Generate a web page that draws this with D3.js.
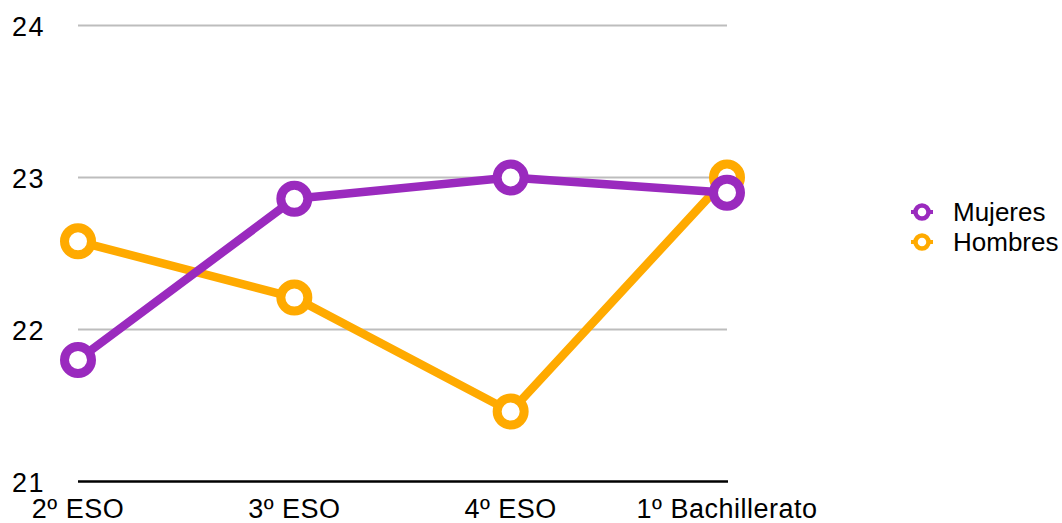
<!DOCTYPE html>
<html>
<head>
<meta charset="utf-8">
<script src="https://cdn.jsdelivr.net/npm/d3@7"></script>
<style>
  html, body { margin: 0; padding: 0; background: #fff; }
  svg { display: block; font-family: "Liberation Sans", Arial, Helvetica, sans-serif; }
</style>
</head>
<body>
<svg id="chart" width="1062" height="523"></svg>
<script>
// Course levels along the x axis
const categories = ["2º ESO", "3º ESO", "4º ESO", "1º Bachillerato"];
// Average values per course
const mujeres = [21.80, 22.86, 23.00, 22.90];
const hombres = [22.58, 22.21, 21.46, 23.00];
// Y axis ticks
const yTicks = [21, 22, 23, 24];

const seriesNames = ["Mujeres", "Hombres"];
const seriesColors = ["#9A2ABE", "#FFAA00"];

const svg = d3.select("#chart");

const x = d3.scalePoint().domain(categories).range([78, 727]);
const y = d3.scaleLinear().domain([21, 24]).range([481.5, 25.5]);

// Horizontal gridlines
svg.append("g")
  .selectAll("line")
  .data(yTicks.filter(t => t !== 21))
  .join("line")
  .attr("x1", 78).attr("x2", 727)
  .attr("y1", d => y(d)).attr("y2", d => y(d))
  .attr("stroke", "#bdbdbd").attr("stroke-width", 2);

// Baseline
svg.append("line")
  .attr("x1", 78).attr("x2", 728)
  .attr("y1", y(21)).attr("y2", y(21))
  .attr("stroke", "#000").attr("stroke-width", 2.5);

// Y tick labels
svg.append("g")
  .selectAll("text")
  .data(yTicks)
  .join("text")
  .attr("x", 12)
  .attr("y", d => y(d) + 10)
  .attr("font-size", 27)
  .attr("letter-spacing", 1.5)
  .attr("fill", "#000")
  .text(d => d);

// X tick labels
svg.append("g")
  .selectAll("text")
  .data(categories)
  .join("text")
  .attr("x", d => x(d))
  .attr("y", 518)
  .attr("text-anchor", "middle")
  .attr("font-size", 27)
  .attr("letter-spacing", 0.5)
  .attr("fill", "#000")
  .text(d => d);

const line = d3.line()
  .x((d, i) => x(categories[i]))
  .y(d => y(d));

// Hombres drawn first so Mujeres sits on top
const series = [
  { name: "Hombres", values: hombres, color: seriesColors[1] },
  { name: "Mujeres", values: mujeres, color: seriesColors[0] }
];

series.forEach(s => {
  const g = svg.append("g");
  g.append("path")
    .datum(s.values)
    .attr("d", line)
    .attr("fill", "none")
    .attr("stroke", s.color)
    .attr("stroke-width", 8.5)
    .attr("stroke-linejoin", "round");
  g.selectAll("circle")
    .data(s.values)
    .join("circle")
    .attr("cx", (d, i) => x(categories[i]))
    .attr("cy", d => y(d))
    .attr("r", 13.5)
    .attr("fill", "#fff")
    .attr("stroke", s.color)
    .attr("stroke-width", 9);
});

// Legend
const legend = svg.append("g")
  .selectAll("g")
  .data(seriesNames)
  .join("g")
  .attr("transform", (d, i) => `translate(922, ${212 + i * 30})`);

legend.append("line")
  .attr("x1", -11).attr("x2", 11)
  .attr("stroke", (d, i) => seriesColors[i])
  .attr("stroke-width", 4);
legend.append("circle")
  .attr("r", 6.5)
  .attr("fill", "#fff")
  .attr("stroke", (d, i) => seriesColors[i])
  .attr("stroke-width", 4.5);
legend.append("text")
  .attr("x", 31)
  .attr("y", 9)
  .attr("font-size", 26)
  .attr("fill", "#000")
  .text(d => d);
</script>
</body>
</html>
